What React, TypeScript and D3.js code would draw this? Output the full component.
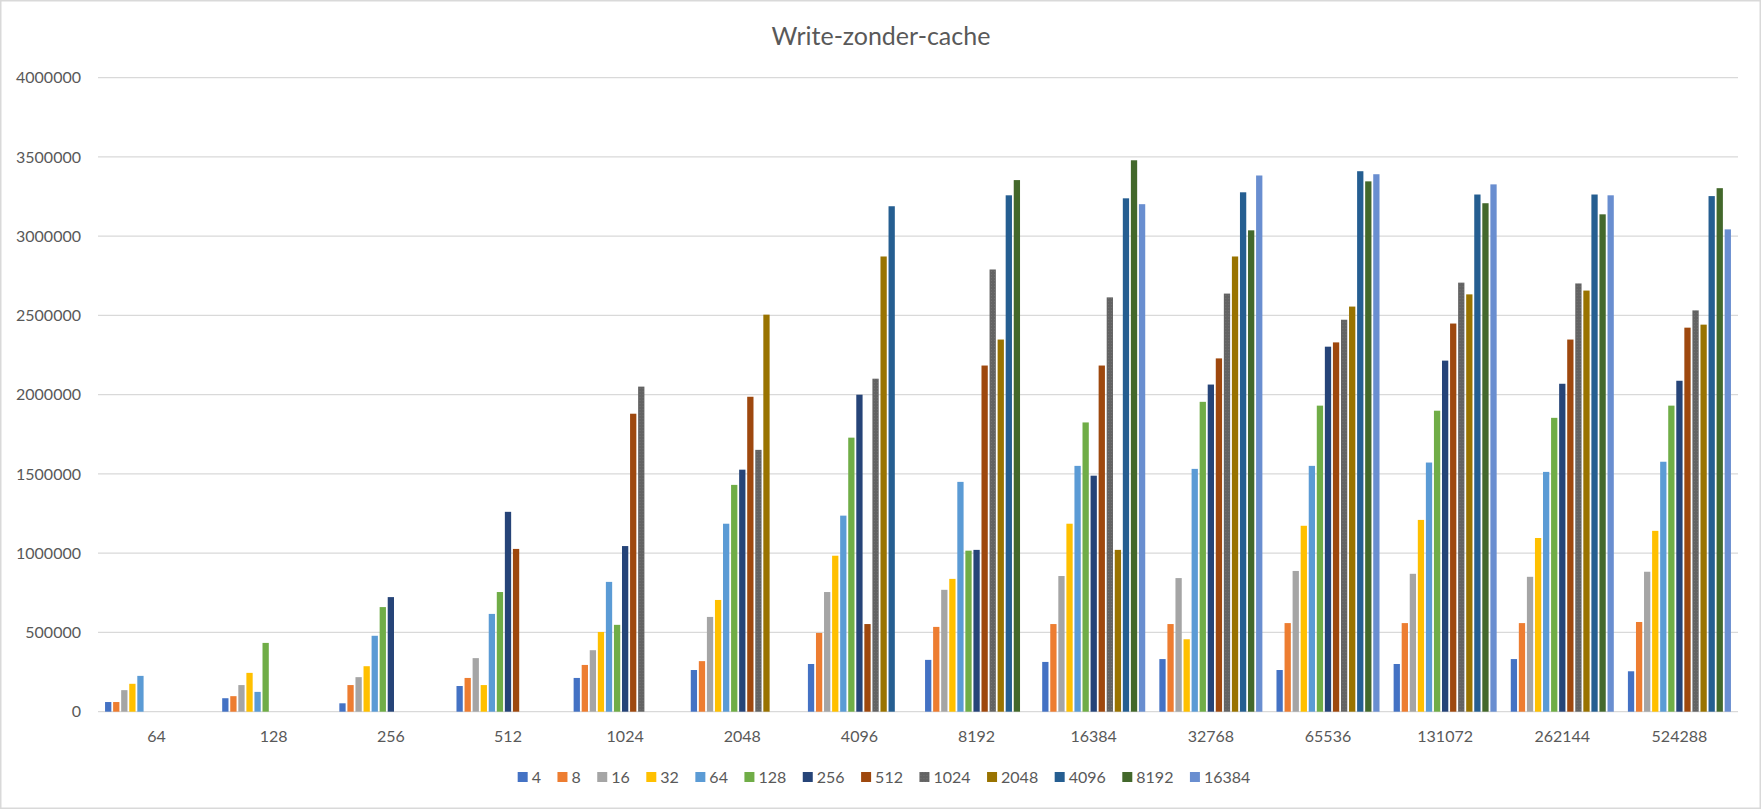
import * as d3 from "d3";

// block sizes (x axis groups)
const categories = [
  "64", "128", "256", "512", "1024", "2048", "4096",
  "8192", "16384", "32768", "65536", "131072", "262144", "524288",
];

// series = buffer sizes, one value per category (null = no bar)
const series = [
  "4", "8", "16", "32", "64", "128", "256",
  "512", "1024", "2048", "4096", "8192", "16384",
];

const s4 = [61000, 85000, 53000, 162000, 213000, 263000, 301000, 327000, 314000, 332000, 263000, 301000, 332000, 255000];
const s8 = [61000, 98000, 168000, 213000, 295000, 319000, 497000, 535000, 553000, 553000, 559000, 559000, 559000, 566000];
const s16 = [136000, 168000, 218000, 338000, 388000, 598000, 755000, 769000, 856000, 843000, 888000, 870000, 851000, 883000];
const s32 = [176000, 245000, 287000, 168000, 503000, 705000, 984000, 838000, 1186000, 457000, 1173000, 1210000, 1096000, 1141000];
const s64 = [226000, 125000, 479000, 617000, 819000, 1186000, 1237000, 1450000, 1551000, 1532000, 1551000, 1572000, 1513000, 1577000];
const s128 = [null, 434000, 660000, 755000, 548000, 1431000, 1729000, 1016000, 1825000, 1955000, 1931000, 1899000, 1854000, 1931000];
const s256 = [null, null, 723000, 1261000, 1045000, 1527000, 2000000, 1021000, 1489000, 2064000, 2303000, 2215000, 2069000, 2088000];
const s512 = [null, null, null, 1027000, 1880000, 1987000, 553000, 2184000, 2184000, 2229000, 2330000, 2449000, 2348000, 2423000];
const s1024 = [null, null, null, null, 2051000, 1652000, 2101000, 2790000, 2614000, 2638000, 2473000, 2707000, 2702000, 2532000];
const s2048 = [null, null, null, null, null, 2505000, 2872000, 2348000, 1021000, 2872000, 2556000, 2633000, 2657000, 2442000];
const s4096 = [null, null, null, null, null, null, 3189000, 3258000, 3239000, 3277000, 3410000, 3263000, 3263000, 3253000];
const s8192 = [null, null, null, null, null, null, null, 3354000, 3479000, 3037000, 3346000, 3208000, 3138000, 3303000];
const s16384 = [null, null, null, null, null, null, null, null, 3202000, 3383000, 3391000, 3327000, 3258000, 3043000];

const values: (number | null)[][] = [
  s4, s8, s16, s32, s64, s128, s256, s512, s1024, s2048, s4096, s8192, s16384,
];

const colors = [
  "#4472C4", "#ED7D31", "#A5A5A5", "#FFC000", "#5B9BD5", "#70AD47", "#264478",
  "#9E480E", "#636363", "#997300", "#255E91", "#43682B", "#698ED0",
];

const W = 1761;
const H = 809;
const font = "Lato, 'Noto Sans', sans-serif";
const textColor = "#595959";
const gridColor = "#d9d9d9";

export default function App() {
  const x = d3.scaleBand().domain(categories).range([98, 1738]);
  const xs = d3
    .scaleBand()
    .domain(series)
    .range([0, x.bandwidth()])
    .paddingInner(0.22)
    .paddingOuter(0.875);
  const y = d3.scaleLinear().domain([0, 4000000]).range([711.7, 77.7]);
  const fmt = d3.format("d");

  // legend: marker + text, laid out from the label widths (tabular digits)
  const digitW = 9.28;
  const itemW = series.map((s) => 10 + 4 + s.length * digitW + 16.5);
  const legendW = d3.sum(itemW) - 16.5;
  let lx = 884 - legendW / 2;
  const legendX = itemW.map((w) => {
    const v = lx;
    lx += w;
    return v;
  });

  return (
    <>
      <style>{"body{margin:0}"}</style>
      <svg width={W} height={H} style={{ display: "block", fontFamily: font }}>
        <defs>
          <pattern id="dots" width="3" height="3" patternUnits="userSpaceOnUse">
            <rect width="3" height="3" fill="#636363" />
            <rect x="1" y="1" width="1" height="1" fill="#737373" />
          </pattern>
        </defs>
        <rect x={0.75} y={0.75} width={W - 1.5} height={H - 1.5} fill="#fff" stroke={gridColor} strokeWidth={1.5} />

        <text x={881} y={45} textAnchor="middle" fontSize={25} fill={textColor}>
          Write-zonder-cache
        </text>

        {y.ticks(8).map((t) => (
          <g key={t}>
            <line x1={98} x2={1738} y1={y(t)} y2={y(t)} stroke={gridColor} strokeWidth={1.33} />
            <text x={81} y={y(t)} dy="0.35em" textAnchor="end" fontSize={16} fill={textColor}>
              {fmt(t)}
            </text>
          </g>
        ))}

        {categories.map((c, ci) => (
          <g key={c} transform={`translate(${x(c)},0)`}>
            {series.map((s, si) => {
              const v = values[si][ci];
              if (v == null) return null;
              return (
                <rect
                  key={s}
                  x={xs(s)}
                  y={y(v)}
                  width={xs.bandwidth()}
                  height={y(0) - y(v)}
                  fill={s === "1024" ? "url(#dots)" : colors[si]}
                />
              );
            })}
            <text
              x={x.bandwidth() / 2}
              y={736.5}
              dy="0.35em"
              textAnchor="middle"
              fontSize={16}
              fill={textColor}
            >
              {c}
            </text>
          </g>
        ))}

        {series.map((s, si) => (
          <g key={s} transform={`translate(${legendX[si]},777)`}>
            <rect x={0} y={-5} width={10} height={10} fill={s === "1024" ? "url(#dots)" : colors[si]} />
            <text x={14} y={0} dy="0.35em" fontSize={16} fill={textColor}>
              {s}
            </text>
          </g>
        ))}
      </svg>
    </>
  );
}
